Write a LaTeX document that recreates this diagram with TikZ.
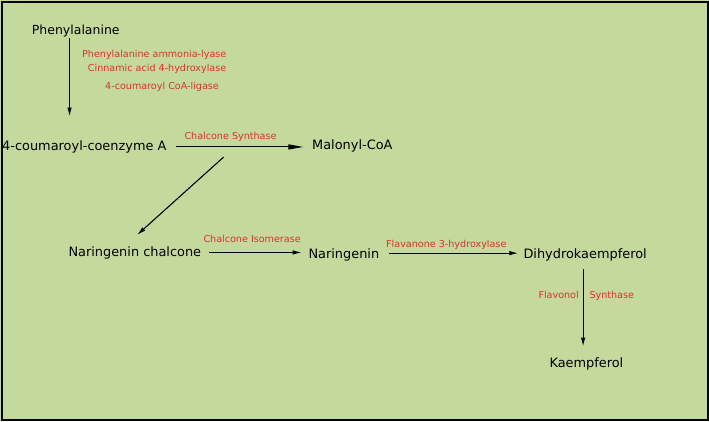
\documentclass[tikz,border=0pt]{standalone}
\usepackage{fontspec}
\setmainfont{DejaVu Sans}
\usepackage{tikz}
\usetikzlibrary{arrows.meta}

\definecolor{leaf}{RGB}{195,218,156}
\definecolor{enzred}{RGB}{226,48,42}

\tikzset{
  cmpd/.style={inner sep=0pt, anchor=base west, font=\fontsize{12.9pt}{15pt}\selectfont},
  enz/.style={inner sep=0pt, anchor=base west, text=enzred, font=\fontsize{9.6pt}{11pt}\selectfont},
  arr/.style={line width=1.1pt, -{Latex[length=9pt,width=4.5pt]}},
  longarr/.style={line width=1.1pt, -{Triangle[length=15pt,width=5pt]}}
}

\begin{document}
\begin{tikzpicture}[x=1pt, y=-1pt]
			% Background and frame
			\useasboundingbox (0,0) rectangle (709,421);
			\fill[leaf] (0,0) rectangle (709,421);
			\draw[line width=2pt] (1.5,1.5) rectangle (707.5,419.5);
			
			% Compounds
			\node[cmpd, font=\fontsize{12.5pt}{14pt}\selectfont] (phe) at (31.7,34) {Phenylalanine};
			\node[cmpd] (coa) at (2,150.5) {4-coumaroyl-coenzyme A};
			\node[cmpd] (mal) at (312,149) {Malonyl-CoA};
			\node[cmpd] (chal) at (68.3,256) {Naringenin chalcone};
			\node[cmpd] (nar) at (308.3,258) {Naringenin};
			\node[cmpd] (dhk) at (523.3,258) {Dihydrokaempferol};
			\node[cmpd] (kae) at (549.3,367) {Kaempferol};
			
			% Enzymes
			\foreach \x/\y/\name in {82/57.3/Phenylalanine ammonia-lyase, 87.7/71/Cinnamic acid 4-hydroxylase, 105/89/4-coumaroyl CoA-ligase} {
				\node[enz] at (\x,\y) {\name};
			}
			\node[enz] (chs) at (184.3,139) {Chalcone Synthase};
			\node[enz] (chi) at (203.3,242) {Chalcone Isomerase};
			\node[enz] (f3h) at (386,247.7) {Flavanone 3-hydroxylase};
			\node[enz] (fls1) at (538.3,298) {Flavonol};
			\node[enz] (fls2) at (589.3,298) {Synthase};
			
			% Reactions
			\draw[arr, shorten <=1.5pt, shorten >=24pt] ([xshift=-6.2pt]phe.south) -- ([xshift=-6.2pt]phe.south |- coa.north);
			\draw[longarr, shorten <=9.7pt, shorten >=8.7pt] (coa.east) -- (coa.east -| mal.west);
			\draw[arr] ([xshift=57pt,yshift=-3.7pt]coa.south east) -- ([xshift=2.2pt,yshift=11pt]chal.north);
			\draw[arr, shorten <=8pt, shorten >=6.6pt] (chal.east) -- (chal.east -| nar.west);
			\draw[arr, shorten <=9.4pt, shorten >=5pt] ([yshift=1.3pt]nar.east) -- ([yshift=1.3pt]nar.east -| dhk.west);
			\draw[arr, shorten <=8.3pt, shorten >=10.5pt] ([xshift=-2pt]dhk.south) -- ([xshift=-2pt]dhk.south |- kae.north);
			
\end{tikzpicture}
\end{document}
